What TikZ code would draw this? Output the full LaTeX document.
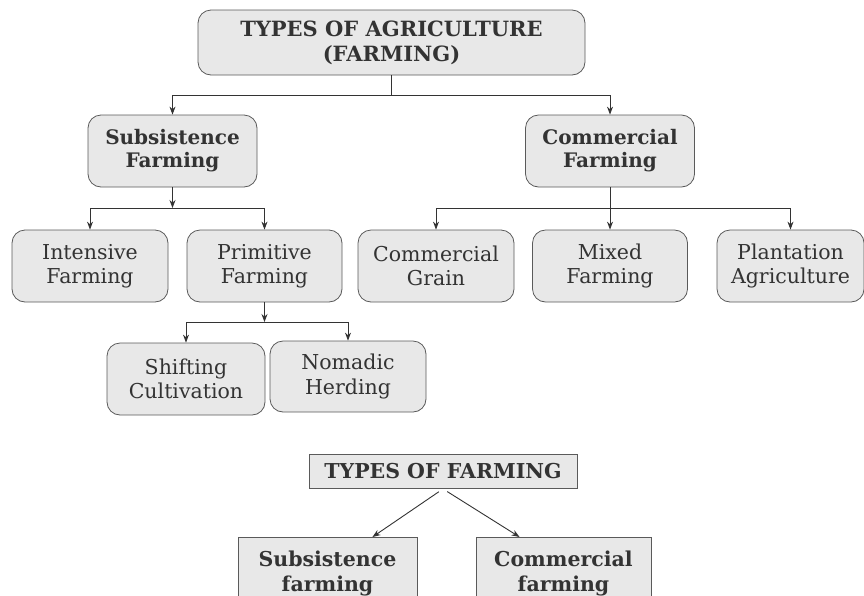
\documentclass[tikz,border=0pt]{standalone}
\usepackage{fontspec}
\setmainfont{DejaVu Serif}
\usetikzlibrary{calc,arrows.meta}
\definecolor{boxfill}{HTML}{E8E8E8}
\definecolor{boxline}{HTML}{5A5A5A}
\definecolor{inkgray}{HTML}{333333}
\tikzset{
  farmbox/.style={draw=boxline, fill=boxfill, line width=0.8pt, rounded corners=13pt, align=center, text=inkgray, inner sep=0pt, font=\fontsize{20.5}{24.5}\selectfont},
  farmboxbold/.style={farmbox, font=\fontsize{20}{23}\selectfont\bfseries},
  flatbox/.style={draw=boxline, fill=boxfill, line width=0.8pt, align=center, text=inkgray, inner sep=0pt, font=\fontsize{20.5}{25}\selectfont\bfseries},
  link/.style={draw=inkgray, line width=0.9pt, -{Stealth[length=8pt,width=6pt]}},
  plainlink/.style={draw=inkgray, line width=0.9pt}
}

\begin{document}
\begin{tikzpicture}[x=1pt,y=-1pt]
			%%%%% START %%%%%
			\useasboundingbox (0,0) rectangle (864,595);
			\clip (0,0) rectangle (864,595);
			
			\node[farmboxbold, font=\fontsize{21}{25}\selectfont\bfseries, minimum width=387, minimum height=65] (agri) at (391.5,42.5) {TYPES OF AGRICULTURE\\(FARMING)};
			
			\node[farmboxbold, minimum width=169, minimum height=72] (subs) at (172.5,151) {Subsistence\\Farming};
			\node[farmboxbold, minimum width=169, minimum height=72] (comm) at (610,151) {Commercial\\Farming};
			
			\node[farmbox, minimum width=156, minimum height=72] (intens) at (90,266) {Intensive\\Farming};
			\node[farmbox, minimum width=155, minimum height=72] (prim) at (264.5,266) {Primitive\\Farming};
			\node[farmbox, minimum width=156, minimum height=72] (cgrain) at (436,266) {Commercial\\Grain};
			\node[farmbox, minimum width=155, minimum height=72] (mixed) at (610,266) {Mixed\\Farming};
			\node[farmbox, minimum width=147, minimum height=72] (plant) at (790.5,266) {Plantation\\Agriculture};
			
			\node[farmbox, minimum width=158, minimum height=72] (shift) at (186,379) {Shifting\\Cultivation};
			\node[farmbox, minimum width=156, minimum height=71] (nomad) at (348,376.5) {Nomadic\\Herding};
			
			\coordinate (j1) at (391.5,95);
			\coordinate (j2) at (172.5,208);
			\coordinate (j3) at (610,208);
			\coordinate (j4) at (264.5,322);
			
			\draw[plainlink] (agri) -- (j1);
			\draw[link] (j1) -| (subs);
			\draw[link] (j1) -| (comm);
			
			\draw[link] (subs) -- (j2);
			\draw[link] (j2) -| (intens);
			\draw[link] (j2) -| (prim);
			
			\draw[link] (comm) -- (mixed);
			\draw[link] (j3) -| (cgrain);
			\draw[link] (j3) -| (plant);
			
			\draw[link] (prim) -- (j4);
			\draw[link] (j4) -| (shift);
			\draw[link] (j4) -| (nomad);
			
			% small chart below
			\node[flatbox, minimum width=268, minimum height=34] (types) at (443,471.5) {TYPES OF FARMING};
			\node[flatbox, anchor=north, minimum width=179, minimum height=72] (subsb) at (327.5,537) {Subsistence\\farming};
			\node[flatbox, anchor=north, minimum width=175, minimum height=72] (commb) at (563.5,537) {Commercial\\farming};
			
			\draw[link, shorten <=5pt] (types.south) -- ($(subsb.north)!0.5!(subsb.north east)$);
			\draw[link, shorten <=5pt] (types.south) -- ($(commb.north)!0.5!(commb.north west)$);
			
			%%%%% END %%%%%
\end{tikzpicture}
\end{document}
